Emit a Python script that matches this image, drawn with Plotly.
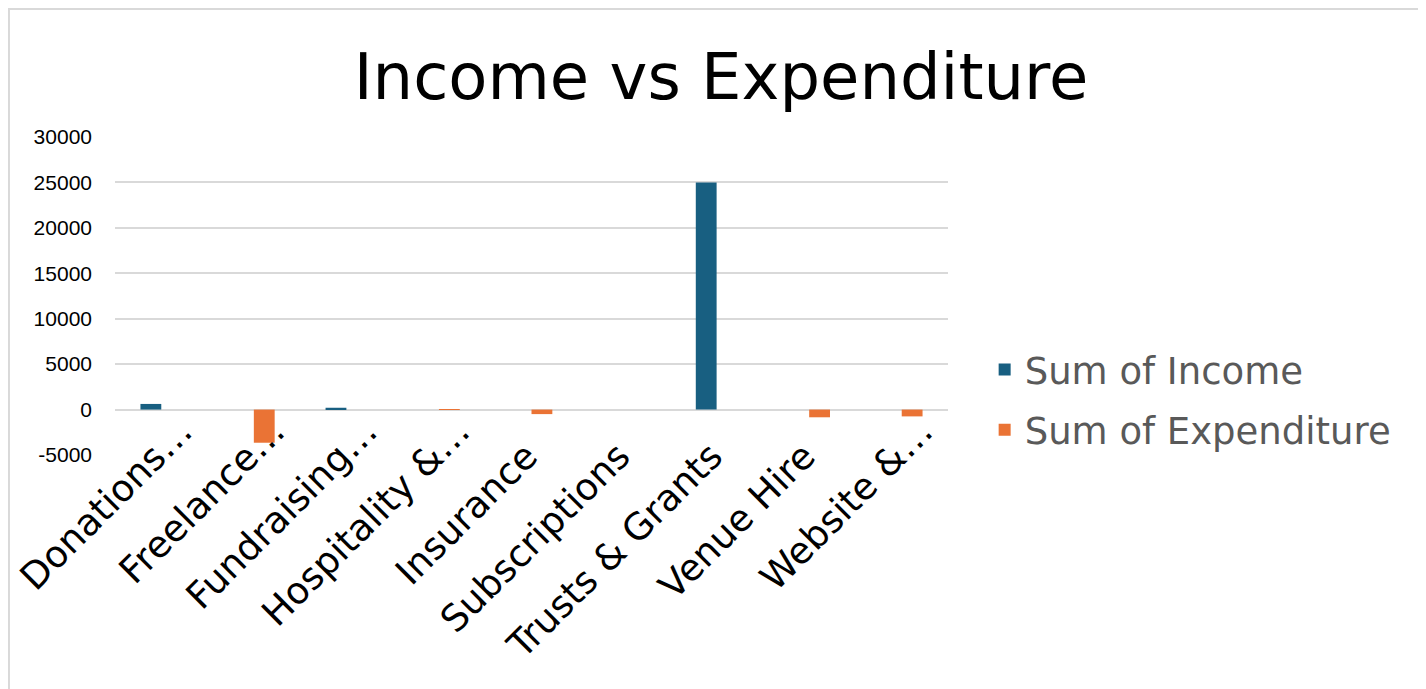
import plotly.graph_objects as go

categories = ["Donations…", "Freelance…", "Fundraising…", "Hospitality &…", "Insurance",
              "Subscriptions", "Trusts & Grants", "Venue Hire", "Website &…"]
income = [620, 0, 200, 0, 0, 0, 25000, 0, 0]
expenditure = [0, -3650, 0, -30, -500, 0, 0, -850, -750]
y_ticks = [-5000, 0, 5000, 10000, 15000, 20000, 25000, 30000]
y_tick_labels = ["-5000", "0", "5000", "10000", "15000", "20000", "25000", "30000"]

# Excel places the truncated ("…") labels a little further along their slant;
# pad the untruncated labels with non-breaking spaces to mimic that offset.
x_tick_labels = [c if c.endswith("…") else c + "\u00a0\u00a0\u00a0" for c in categories]

fig = go.Figure()
fig.add_trace(go.Bar(x=categories, y=income, name="Sum of Income",
                     marker=dict(color="#185F81", line=dict(width=0)), legendgroup="a"))
fig.add_trace(go.Bar(x=categories, y=expenditure, name="Sum of Expenditure",
                     marker=dict(color="#EA7335", line=dict(width=0)), legendgroup="b"))

fig.update_layout(
    width=1426, height=689,
    paper_bgcolor="white", plot_bgcolor="white",
    margin=dict(l=107, r=486, t=129, b=242, autoexpand=False),
    barmode="group", bargap=0.55, bargroupgap=0,
    title=dict(text="Income vs Expenditure", x=0.5, xanchor="center", xref="container",
               y=0.9, yanchor="middle",
               font=dict(family="DejaVu Sans", size=64, color="black")),
    xaxis=dict(type="category", tickangle=-45, showgrid=False, showline=False, ticks="",
               tickvals=categories, ticktext=x_tick_labels,
               ticklabelstandoff=-54, ticklabelshift=20,
               tickfont=dict(family="DejaVu Sans", size=37, color="black")),
    yaxis=dict(range=[-5000, 30000], tickvals=y_ticks, ticktext=y_tick_labels,
               showgrid=True, gridcolor="#D9D9D9",
               gridwidth=1.5, zeroline=True, zerolinecolor="#D9D9D9", zerolinewidth=1.5,
               showline=False, ticks="", ticklabelstandoff=22,
               tickfont=dict(family="Liberation Sans", size=21, color="black")),
    legend=dict(x=1.044, xanchor="left", y=0.173, yanchor="middle", traceorder="grouped",
                tracegroupgap=9, itemwidth=30,
                font=dict(family="DejaVu Sans", size=37, color="#595959"),
                bgcolor="rgba(0,0,0,0)"),
    showlegend=True,
)

fig.add_shape(type="rect", xref="paper", yref="paper", x0=-0.1273, x1=1.5666, y0=-1.0, y1=1.4025,
              line=dict(color="#D9D9D9", width=2), fillcolor="rgba(0,0,0,0)", layer="below")

fig.write_html("out.html")
